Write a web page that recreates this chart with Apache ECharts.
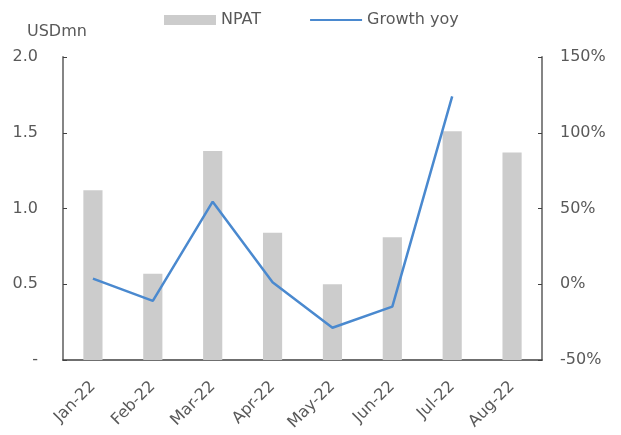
<!DOCTYPE html>
<html>
<head>
<meta charset="utf-8">
<script src="https://cdn.jsdelivr.net/npm/echarts@6/dist/echarts.min.js"></script>
<style>
  html, body { margin: 0; padding: 0; background: #fff; }
  #chart { width: 621px; height: 435px; }
</style>
</head>
<body>
<div id="chart"></div>
<script>
// monthly data
const months = ['Jan-22', 'Feb-22', 'Mar-22', 'Apr-22', 'May-22', 'Jun-22', 'Jul-22', 'Aug-22']
const npat = [1.12, 0.57, 1.38, 0.84, 0.50, 0.81, 1.51, 1.37]
const growthYoy = [3.7, -11, 54.5, 1.3, -28.7, -14.8, 124, null]

const textColor = '#595959'
const axisColor = '#404040'
const font = 'DejaVu Sans'

let myChart = echarts.init(document.getElementById('chart'))
myChart.setOption({
  animation: false,
  textStyle: { fontFamily: font },
  title: {
    text: 'USDmn',
    left: 22,
    top: 19,
    textStyle: { fontFamily: font, fontSize: 16, fontWeight: 'normal', color: textColor }
  },
  legend: {
    left: 159,
    top: 7,
    itemWidth: 52,
    itemHeight: 10,
    itemGap: 48,
    textStyle: { fontFamily: font, fontSize: 16, color: textColor },
    data: [
      { name: 'NPAT', icon: 'rect' },
      // hide the dot that echarts puts on line legend icons
      { name: 'Growth yoy', itemStyle: { opacity: 0 } }
    ]
  },
  grid: {
    left: 63,
    right: 79,
    top: 57,
    bottom: 75,
    containLabel: false
  },
  xAxis: {
    type: 'category',
    data: months,
    axisLine: { lineStyle: { color: axisColor, width: 1.5 } },
    axisTick: { inside: true, length: 5, lineStyle: { color: axisColor } },
    axisLabel: {
      rotate: 45,
      margin: 24,
      interval: 0,
      fontFamily: font,
      fontSize: 16,
      color: textColor
    }
  },
  yAxis: [
    {
      type: 'value',
      min: 0,
      max: 2,
      interval: 0.5,
      splitLine: { show: false },
      axisLine: { show: true, lineStyle: { color: '#858585', width: 2 } },
      axisTick: { show: true, inside: true, length: 4, lineStyle: { color: axisColor } },
      axisLabel: {
        margin: 25,
        fontFamily: font,
        fontSize: 16,
        color: textColor,
        formatter: function (v) { return v === 0 ? '-' : v.toFixed(1) }
      }
    },
    {
      type: 'value',
      min: -50,
      max: 150,
      interval: 50,
      splitLine: { show: false },
      axisLine: { show: true, lineStyle: { color: '#858585', width: 2 } },
      axisTick: { show: true, inside: true, length: 4, lineStyle: { color: axisColor } },
      axisLabel: {
        margin: 18,
        fontFamily: font,
        fontSize: 16,
        color: textColor,
        formatter: '{value}%'
      }
    }
  ],
  series: [
    {
      name: 'NPAT',
      type: 'bar',
      yAxisIndex: 0,
      barWidth: '32%',
      itemStyle: { color: '#cccccc' },
      data: npat
    },
    {
      name: 'Growth yoy',
      type: 'line',
      yAxisIndex: 1,
      symbol: 'none',
      connectNulls: false,
      lineStyle: { color: '#4a89cf', width: 2.5 },
      itemStyle: { color: '#4a89cf' },
      data: growthYoy
    }
  ]
})
</script>
</body>
</html>
